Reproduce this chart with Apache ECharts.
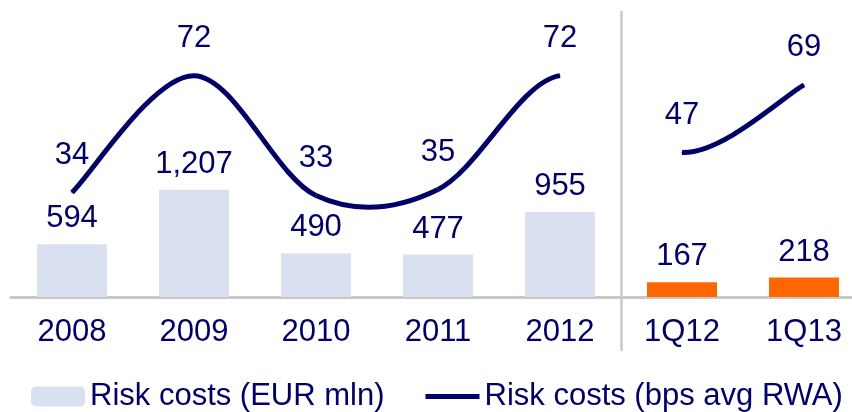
<!DOCTYPE html>
<html>
<head>
<meta charset="utf-8">
<script src="https://cdn.jsdelivr.net/npm/echarts@6/dist/echarts.min.js"></script>
<style>
  html, body { margin: 0; padding: 0; background: #fff; }
  #riskChart { width: 852px; height: 412px; }
</style>
</head>
<body>
<div id="riskChart"></div>
<script>
// categories on the x axis
var categories = ['2008', '2009', '2010', '2011', '2012', '1Q12', '1Q13']
// Risk costs (EUR mln) - last two are the quarters (orange)
var riskCostsEur = [594, 1207, 490, 477, 955, 167, 218]
// Risk costs (bps avg RWA)
var riskCostsBps = [34, 72, 33, 35, 72, 47, 69]
var quarterStart = 5

var navy = '#000066'
var barBlue = '#D9E0EF'
var orange = '#FF6600'
var grey = '#C8C8C8'
var fontFamily = '"Liberation Sans", Arial, sans-serif'
var fontSize = 31

var chartDom = document.getElementById('riskChart')
var myChart = echarts.init(chartDom)

var barData = riskCostsEur.map(function (v, i) {
    if (i >= quarterStart) {
        return { value: v, itemStyle: { color: orange } }
    }
    return v
})

// point of the bps line in pixels, index clamped to the ends
function bpsPoint(api, j) {
    j = Math.max(0, Math.min(riskCostsBps.length - 1, j))
    return api.coord([j, riskCostsBps[j]])
}

// smooth curve segment i -> i+1 (Catmull-Rom like), no segment between years and quarters
function renderBpsSegment(params, api) {
    var i = params.dataIndex
    if (i >= riskCostsBps.length - 1 || i === quarterStart - 1) {
        return
    }
    var p0 = bpsPoint(api, i - 1)
    var p1 = bpsPoint(api, i)
    var p2 = bpsPoint(api, i + 1)
    var p3 = bpsPoint(api, i + 2)
    var t = 1 / 6
    return {
        type: 'bezierCurve',
        shape: {
            x1: p1[0], y1: p1[1],
            x2: p2[0], y2: p2[1],
            cpx1: p1[0] + (p2[0] - p0[0]) * t,
            cpy1: p1[1] + (p2[1] - p0[1]) * t,
            cpx2: p2[0] - (p3[0] - p1[0]) * t,
            cpy2: p2[1] - (p3[1] - p1[1]) * t
        },
        style: { stroke: navy, lineWidth: 5, fill: null }
    }
}

var option = {
    animation: false,
    textStyle: { fontFamily: fontFamily },
    grid: [
        { left: 11, width: 854, top: 8, bottom: 115, outerBoundsMode: 'none', containLabel: false },
        // only for the separator line between years and quarters
        { left: 11, width: 854, top: 11, bottom: 61, outerBoundsMode: 'none', containLabel: false }
    ],
    legend: {
        left: 31,
        top: 381,
        padding: 0,
        itemWidth: 54,
        itemHeight: 20,
        itemGap: 41,
        textStyle: { fontSize: fontSize, color: navy, fontFamily: fontFamily },
        data: [
            { name: 'Risk costs (EUR mln)' },
            { name: 'Risk costs (bps avg RWA)', icon: 'path://M0,0H54V5H0Z' }
        ]
    },
    xAxis: [
        {
            type: 'category',
            data: categories,
            boundaryGap: true,
            gridIndex: 0,
            axisLine: { lineStyle: { color: grey, width: 2 } },
            axisTick: { show: false },
            splitLine: { show: false },
            axisLabel: {
                interval: 0,
                margin: 20,
                fontSize: fontSize,
                color: navy,
                fontFamily: fontFamily
            }
        },
        {
            type: 'category',
            position: 'top',
            gridIndex: 0,
            data: categories,
            axisLine: { show: true, lineStyle: { color: grey, width: 3 } },
            axisTick: { show: false },
            axisLabel: { show: false },
            splitLine: { show: false }
        },
        {
            // 0..7 spans the 7 category bands, a split line at 5 = start of quarters
            type: 'value',
            gridIndex: 1,
            min: 0,
            max: categories.length,
            interval: quarterStart,
            axisLine: { show: false },
            axisTick: { show: false },
            axisLabel: { show: false },
            splitLine: {
                show: true,
                showMinLine: false,
                showMaxLine: false,
                lineStyle: { color: grey, width: 2.5 }
            }
        }
    ],
    yAxis: [
        { type: 'value', gridIndex: 0, min: 0, max: 3250, show: false, splitLine: { show: false } },
        { type: 'value', gridIndex: 0, min: 0, max: 94, show: false, splitLine: { show: false } },
        { type: 'value', gridIndex: 1, min: 0, max: 1, show: false, splitLine: { show: false } }
    ],
    series: [
        {
            name: 'Risk costs (EUR mln)',
            type: 'bar',
            xAxisIndex: 0,
            yAxisIndex: 0,
            barWidth: 70,
            itemStyle: { color: barBlue },
            label: {
                show: true,
                position: 'top',
                distance: 10,
                fontSize: fontSize,
                color: navy,
                fontFamily: fontFamily,
                formatter: function (p) {
                    return p.value.toLocaleString('en-US')
                }
            },
            data: barData
        },
        {
            name: 'Risk costs (bps avg RWA)',
            type: 'custom',
            xAxisIndex: 0,
            yAxisIndex: 1,
            itemStyle: { color: navy },
            encode: { x: 0, y: 1 },
            renderItem: renderBpsSegment,
            data: riskCostsBps.map(function (v, i) { return [i, v] })
        },
        {
            // value labels of the bps line
            type: 'scatter',
            xAxisIndex: 0,
            yAxisIndex: 1,
            silent: true,
            symbolSize: 1,
            itemStyle: { color: navy, opacity: 1 },
            label: {
                show: true,
                position: 'top',
                distance: 21,
                fontSize: fontSize,
                color: navy,
                fontFamily: fontFamily
            },
            data: riskCostsBps
        }
    ]
}

myChart.setOption(option, true)
</script>
</body>
</html>
